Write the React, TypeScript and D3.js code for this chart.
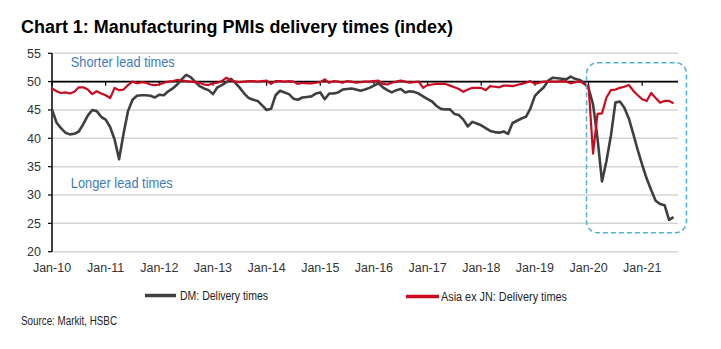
import React from 'react';
import * as d3 from 'd3';

// ---- Data (monthly, Jan-10 .. Aug-21) ----
const startYear = 2010;
const dmDelivery = [
  45.1, 42.8, 41.8, 41.0, 40.7, 40.8, 41.2, 42.5, 44.0, 45.0, 44.8, 43.8,
  43.3, 42.0, 39.8, 36.3, 40.8, 44.8, 46.8, 47.5, 47.6, 47.6, 47.5, 47.2,
  47.7, 47.6, 48.3, 48.8, 49.5, 50.4, 51.2, 50.8, 50.0, 49.2, 48.8, 48.5,
  47.8, 49.0, 49.4, 49.9, 50.5, 49.8, 48.9, 47.9, 47.1, 46.8, 46.6, 45.8,
  45.0, 45.2, 47.6, 48.4, 48.1, 47.8, 47.0, 46.8, 47.2, 47.3, 47.4, 47.9,
  48.1, 46.9, 47.9, 47.9, 48.1, 48.6, 48.7, 48.8, 48.6, 48.4, 48.6, 48.9,
  49.3, 49.7, 49.0, 48.5, 48.1, 48.5, 48.7, 48.1, 48.3, 48.2, 47.9, 47.4,
  46.9, 46.5, 45.7, 45.2, 45.1, 45.1, 44.3, 44.1, 43.3, 42.1, 42.9, 42.6,
  42.3, 41.8, 41.3, 41.1, 41.0, 41.2, 40.8, 42.7, 43.1, 43.5, 43.8, 45.3,
  47.5, 48.3, 49.0, 50.2, 50.7, 50.6, 50.5, 50.4, 50.9, 50.5, 50.3, 49.8,
  48.8, 46.0, 40.0, 32.4, 36.0, 40.5, 46.3, 46.5, 45.4, 43.5, 40.8, 37.9,
  35.3, 32.9, 30.9, 29.0, 28.4, 28.2, 25.6, 26.1,
];
const asiaDelivery = [
  48.8, 48.3, 48.0, 48.1, 47.9, 48.2, 49.0, 49.0, 48.6, 47.8, 48.3, 47.9,
  47.6, 47.1, 48.9, 48.5, 48.6, 49.4, 50.0, 49.7, 49.9, 49.8, 49.5, 49.4,
  49.5, 49.8, 50.0, 50.1, 50.3, 50.2, 50.1, 50.0, 49.9, 49.8, 49.5, 49.4,
  49.7, 49.8, 50.1, 50.7, 50.2, 50.0, 49.9, 50.0, 50.1, 50.1, 50.0, 50.1,
  50.2, 49.6, 50.1, 50.1, 50.0, 50.1, 50.0, 49.6, 49.8, 49.7, 49.7, 49.8,
  49.9, 50.4, 49.8, 50.1, 50.0, 49.8, 50.1, 50.0, 49.8, 49.9, 50.0, 50.0,
  50.1, 50.2, 49.6, 49.5, 49.8, 50.0, 50.2, 50.0, 49.8, 49.9, 50.0, 48.9,
  49.4, 49.5, 49.6, 49.6, 49.6, 49.3, 49.0, 48.7, 48.2, 48.6, 48.9, 48.9,
  48.9, 48.5, 49.2, 49.1, 49.0, 49.3, 49.3, 49.2, 49.4, 49.6, 49.8, 50.1,
  49.6, 49.8, 50.0, 50.0, 50.0, 50.0, 50.1, 50.0, 49.7, 49.9, 50.1, 49.6,
  49.2, 37.3, 44.3, 44.4, 47.2, 48.5, 48.6, 48.9, 49.1, 49.4, 48.4, 47.6,
  46.9, 46.6, 48.0, 47.1, 46.3, 46.6, 46.6, 46.2,
];
const xTickLabels = ['Jan-10', 'Jan-11', 'Jan-12', 'Jan-13', 'Jan-14', 'Jan-15', 'Jan-16', 'Jan-17', 'Jan-18', 'Jan-19', 'Jan-20', 'Jan-21'];
const yTicks = [20, 25, 30, 35, 40, 45, 50, 55];
const seriesNames = ['DM: Delivery times', 'Asia ex JN: Delivery times'];
const title = 'Chart 1: Manufacturing PMIs delivery times (index)';
const source = 'Source: Markit, HSBC';
const annotations = ['Shorter lead times', 'Longer lead times'];
// highlight box in data units: months from Jan-10, and index values
const boxMonths = [119.55, 141.9];
const boxValues = [53.35, 23.35];

const W = 721;
const H = 349;
const plot = { left: 52, right: 678, top: 53.3, bottom: 251.7 };
const NARROW = '"Liberation Sans Narrow", "Arial Narrow", "Liberation Sans", Arial, sans-serif';
const ARIAL = '"Liberation Sans", Arial, sans-serif';

export default function App() {
  const x = d3.scaleLinear().domain([0, 140]).range([plot.left, plot.right]);
  const y = d3.scaleLinear().domain([20, 55]).range([plot.bottom, plot.top]);
  const line = d3
    .line<number>()
    .x((_, i) => x(i))
    .y((d) => y(d))
    .curve(d3.curveLinear);

  const dmColor = '#3f3f3f';
  const asiaColor = '#cc0a1f';
  const blue = '#3d7cb9';

  return (
    <svg width={W} height={H} style={{ position: 'absolute', left: 0, top: 0, background: '#fff' }}>
      <rect x={0} y={0} width={W} height={H} fill="#fff" />
      <text x={21} y={33} fontFamily={ARIAL} fontWeight="bold" fontSize={18} fill="#000" textLength={432} lengthAdjust="spacingAndGlyphs">
        {title}
      </text>

      {/* gridlines */}
      {yTicks.map((t) => (
        <line key={'g' + t} x1={plot.left} x2={plot.right} y1={y(t)} y2={y(t)} stroke="#d4d4d4" strokeWidth={1.5} />
      ))}

      {/* y axis */}
      <line x1={plot.left} x2={plot.left} y1={y(55)} y2={y(20)} stroke="#000" strokeWidth={1.5} />
      {yTicks.map((t) => (
        <g key={'y' + t}>
          <line x1={plot.left - 4} x2={plot.left} y1={y(t)} y2={y(t)} stroke="#000" strokeWidth={1.2} />
          <text x={41} y={y(t) + 4.3} textAnchor="end" fontFamily={NARROW} fontSize={12.5} fill="#333">
            {t}
          </text>
        </g>
      ))}

      {/* x axis crossing at 50 */}
      <line x1={plot.left} x2={plot.right} y1={y(50)} y2={y(50)} stroke="#000" strokeWidth={1.6} />
      {xTickLabels.map((lab, i) => (
        <g key={lab}>
          <line x1={x(i * 12)} x2={x(i * 12)} y1={y(50)} y2={y(50) + 4} stroke="#000" strokeWidth={1.2} />
          <text x={x(i * 12)} y={271.5} textAnchor="middle" fontFamily={NARROW} fontSize={12.5} fill="#333">
            {lab}
          </text>
        </g>
      ))}

      {/* annotations */}
      <text x={x(4.2)} y={y(52.5)} fontFamily={NARROW} fontSize={14.5} fill={blue} textLength={104} lengthAdjust="spacingAndGlyphs">
        {annotations[0]}
      </text>
      <text x={x(4.2)} y={y(31.3)} fontFamily={NARROW} fontSize={14.5} fill={blue} textLength={102} lengthAdjust="spacingAndGlyphs">
        {annotations[1]}
      </text>

      {/* series */}
      <path d={line(dmDelivery) || ''} fill="none" stroke={dmColor} strokeWidth={2.6} strokeLinejoin="round" />
      <path d={line(asiaDelivery) || ''} fill="none" stroke={asiaColor} strokeWidth={2.2} strokeLinejoin="round" />

      {/* highlight box */}
      <rect
        x={x(boxMonths[0])}
        y={y(boxValues[0])}
        width={x(boxMonths[1]) - x(boxMonths[0])}
        height={y(boxValues[1]) - y(boxValues[0])}
        rx={11}
        ry={11}
        fill="none"
        stroke="#4eb3d3"
        strokeWidth={1.5}
        strokeDasharray="5 3"
      />

      {/* legend */}
      <line x1={145} x2={176} y1={295.5} y2={295.5} stroke={dmColor} strokeWidth={3.5} />
      <text x={180} y={299.5} fontFamily={NARROW} fontSize={12.5} fill="#222" textLength={88} lengthAdjust="spacingAndGlyphs">
        {seriesNames[0]}
      </text>
      <line x1={406} x2={439} y1={296.5} y2={296.5} stroke={asiaColor} strokeWidth={3.5} />
      <text x={441} y={300.5} fontFamily={NARROW} fontSize={12.5} fill="#222" textLength={126} lengthAdjust="spacingAndGlyphs">
        {seriesNames[1]}
      </text>

      <text x={21} y={324.5} fontFamily={NARROW} fontSize={12} fill="#222" textLength={96} lengthAdjust="spacingAndGlyphs">
        {source}
      </text>
    </svg>
  );
}
